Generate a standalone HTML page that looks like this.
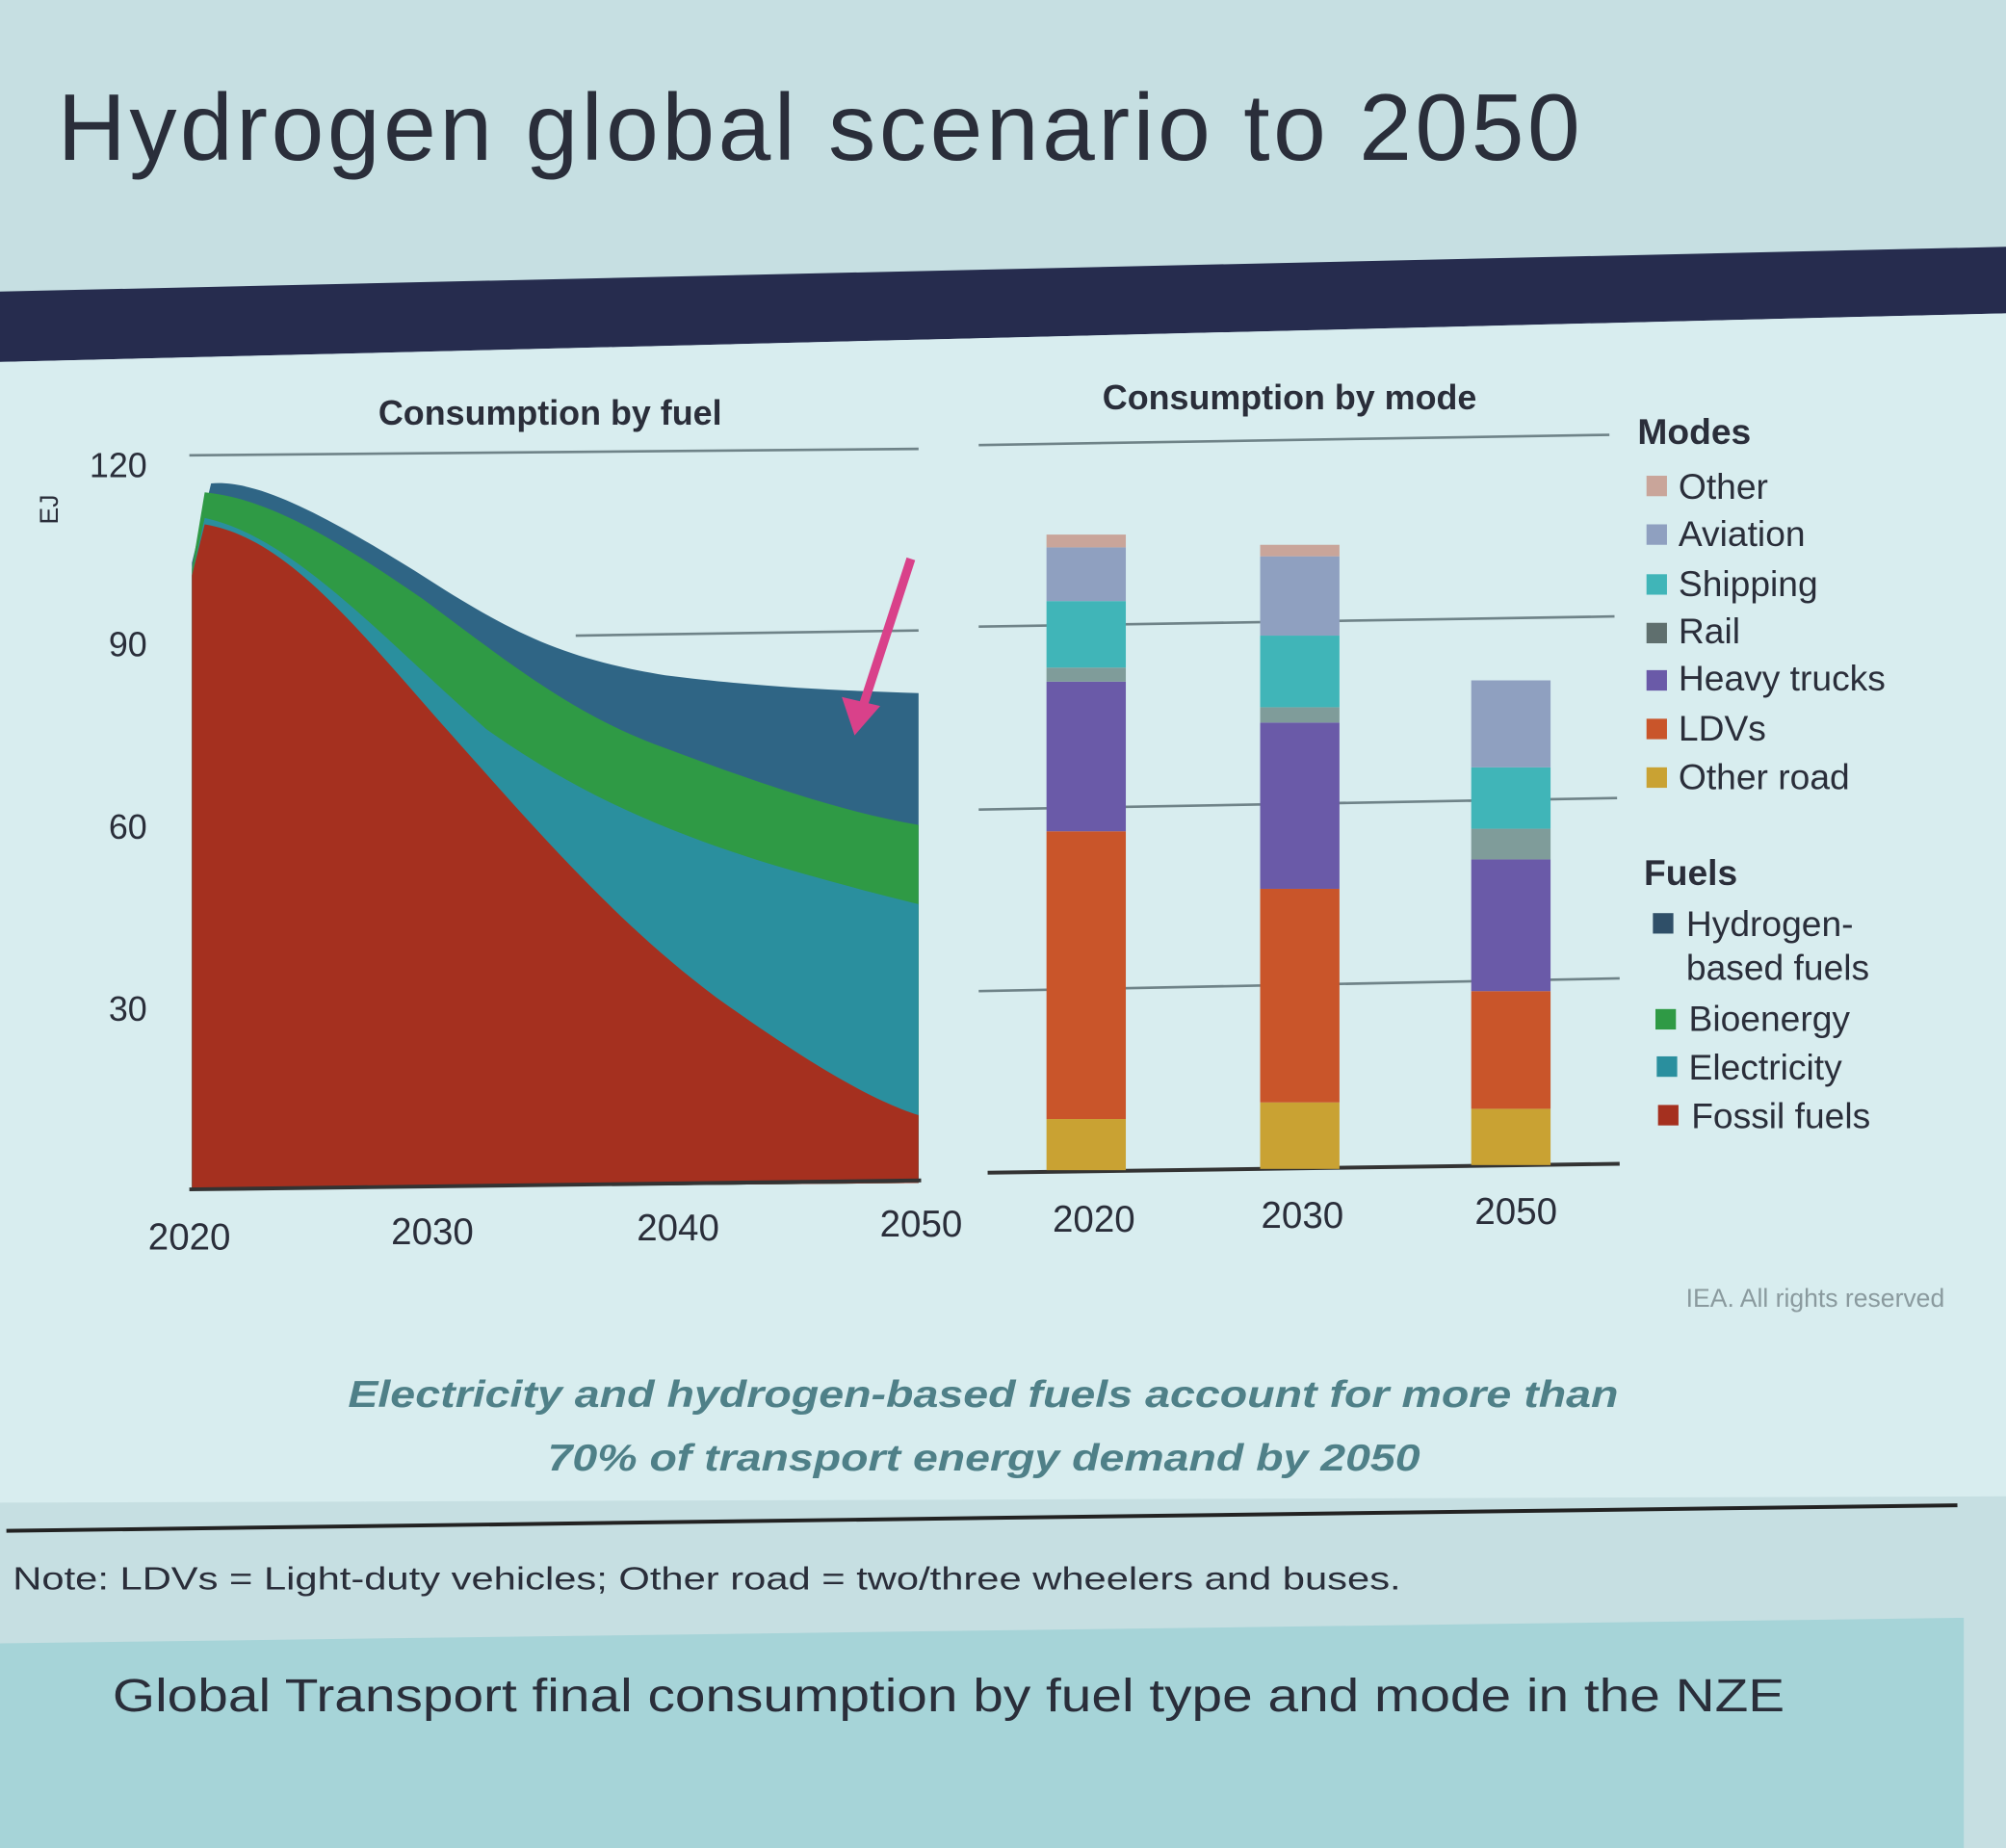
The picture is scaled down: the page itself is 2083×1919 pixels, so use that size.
<!DOCTYPE html>
<html><head><meta charset="utf-8"><style>
html,body{margin:0;padding:0;background:#c8e0e3;}
svg{display:block}
text{font-family:"Liberation Sans",sans-serif;}
</style></head><body>
<svg width="2083" height="1919" viewBox="0 0 1568 1445" xmlns="http://www.w3.org/2000/svg" preserveAspectRatio="none">
<rect x="0" y="0" width="1568" height="1445" fill="#c6dfe2"/>
<text x="45" y="125" font-size="74" fill="#2a2e3a" textLength="1190" lengthAdjust="spacing">Hydrogen global scenario to 2050</text>
<polygon points="0,228 1568,193 1568,245 0,283" fill="#262c4e"/>
<polygon points="0,283 1568,245 1568,1170 0,1175" fill="#d8edef"/>
<g stroke="#6f8388" stroke-width="2">
<line x1="148" y1="356" x2="718" y2="351"/>
<line x1="450" y1="497" x2="718" y2="493"/>
<line x1="765" y1="348" x2="1258" y2="340"/>
<line x1="765" y1="490" x2="1262" y2="482"/>
<line x1="765" y1="633" x2="1264" y2="624"/>
<line x1="765" y1="775" x2="1266" y2="765"/>
</g>
<text x="430" y="332" font-size="27" font-weight="bold" fill="#2a2e3a" text-anchor="middle">Consumption by fuel</text>
<text x="1008" y="320" font-size="27" font-weight="bold" fill="#2a2e3a" text-anchor="middle">Consumption by mode</text>
<g font-size="27" fill="#2a2e3a" text-anchor="end">
<text x="115" y="373">120</text><text x="115" y="513">90</text><text x="115" y="656">60</text><text x="115" y="798">30</text>
</g>
<text x="45" y="410" font-size="20" fill="#2a2e3a" transform="rotate(-90 45 410)">EJ</text>
<path d="M150,440 L165,378 C200,375 250,400 330,450 C400,495 440,515 520,528 C600,538 660,540 718,542 L718,925 L150,930 Z" fill="#2f6585"/>
<path d="M150,445 L160,385 C210,390 260,420 330,468 C400,520 450,560 520,585 C600,615 660,635 718,645 L718,925 L150,930 Z" fill="#2f9a45"/>
<path d="M150,450 L160,405 C230,420 300,500 380,570 C450,620 520,650 600,675 C650,690 690,700 718,707 L718,925 L150,930 Z" fill="#2a8f9e"/>
<path d="M150,450 L160,410 C220,420 270,480 340,560 C420,650 480,720 560,780 C630,830 680,860 718,872 L718,925 L150,930 Z" fill="#a5301f"/>
<line x1="148" y1="930" x2="720" y2="923" stroke="#333" stroke-width="3"/>
<line x1="772" y1="917" x2="1266" y2="910" stroke="#333" stroke-width="3"/>
<g font-size="29" fill="#2a2e3a" text-anchor="middle">
<text x="148" y="977">2020</text><text x="338" y="973">2030</text><text x="530" y="970">2040</text><text x="720" y="967">2050</text>
<text x="855" y="963">2020</text><text x="1018" y="960">2030</text><text x="1185" y="957">2050</text>
</g>
<line x1="712" y1="437" x2="672" y2="560" stroke="#d9418a" stroke-width="7"/>
<polygon points="658,545 668,575 688,552" fill="#d9418a"/>
<g>
<rect x="818" y="875" width="62" height="40" fill="#c9a233"/>
<rect x="818" y="650" width="62" height="225" fill="#c9552a"/>
<rect x="818" y="533" width="62" height="117" fill="#6a5aa8"/>
<rect x="818" y="522" width="62" height="11" fill="#7f9c9a"/>
<rect x="818" y="470" width="62" height="52" fill="#40b5b8"/>
<rect x="818" y="428" width="62" height="42" fill="#8fa0c0"/>
<rect x="818" y="418" width="62" height="10" fill="#c9a59a"/>
<rect x="985" y="862" width="62" height="52" fill="#c9a233"/>
<rect x="985" y="695" width="62" height="167" fill="#c9552a"/>
<rect x="985" y="565" width="62" height="130" fill="#6a5aa8"/>
<rect x="985" y="553" width="62" height="12" fill="#7f9c9a"/>
<rect x="985" y="497" width="62" height="56" fill="#40b5b8"/>
<rect x="985" y="435" width="62" height="62" fill="#8fa0c0"/>
<rect x="985" y="426" width="62" height="9" fill="#c9a59a"/>
<rect x="1150" y="867" width="62" height="44" fill="#c9a233"/>
<rect x="1150" y="775" width="62" height="92" fill="#c9552a"/>
<rect x="1150" y="672" width="62" height="103" fill="#6a5aa8"/>
<rect x="1150" y="648" width="62" height="24" fill="#7f9c9a"/>
<rect x="1150" y="600" width="62" height="48" fill="#40b5b8"/>
<rect x="1150" y="532" width="62" height="68" fill="#8fa0c0"/>
</g>
<g font-size="28" fill="#2a2e3a">
<text x="1280" y="347" font-weight="bold">Modes</text>
<rect x="1287" y="372" width="16" height="16" fill="#c9a59a"/><text x="1312" y="390">Other</text>
<rect x="1287" y="410" width="16" height="16" fill="#8fa0c0"/><text x="1312" y="427">Aviation</text>
<rect x="1287" y="449" width="16" height="16" fill="#40b5b8"/><text x="1312" y="466">Shipping</text>
<rect x="1287" y="487" width="16" height="16" fill="#5f6f6e"/><text x="1312" y="503">Rail</text>
<rect x="1287" y="524" width="16" height="16" fill="#6a5aa8"/><text x="1312" y="540">Heavy trucks</text>
<rect x="1287" y="562" width="16" height="16" fill="#c9552a"/><text x="1312" y="579">LDVs</text>
<rect x="1287" y="600" width="16" height="16" fill="#c9a233"/><text x="1312" y="617">Other road</text>
<text x="1285" y="692" font-weight="bold">Fuels</text>
<rect x="1292" y="714" width="16" height="16" fill="#2f4f68"/><text x="1318" y="732">Hydrogen-</text>
<text x="1318" y="766">based fuels</text>
<rect x="1294" y="789" width="16" height="16" fill="#2f9a45"/><text x="1320" y="806">Bioenergy</text>
<rect x="1295" y="826" width="16" height="16" fill="#2a8f9e"/><text x="1320" y="844">Electricity</text>
<rect x="1296" y="864" width="16" height="16" fill="#a5301f"/><text x="1322" y="882">Fossil fuels</text>
</g>
<text x="1520" y="1022" font-size="20" fill="#8a9a9e" text-anchor="end">IEA. All rights reserved</text>
<g font-size="29" font-style="italic" font-weight="bold" fill="#4f8088">
<text x="272" y="1100" textLength="993" lengthAdjust="spacingAndGlyphs">Electricity and hydrogen-based fuels account for more than</text>
<text x="428" y="1150" textLength="682" lengthAdjust="spacingAndGlyphs">70% of transport energy demand by 2050</text>
</g>
<line x1="5" y1="1197" x2="1530" y2="1177" stroke="#222" stroke-width="3"/>
<text x="10" y="1243" font-size="25" fill="#2a2e3a" textLength="1085" lengthAdjust="spacingAndGlyphs">Note: LDVs = Light-duty vehicles; Other road = two/three wheelers and buses.</text>
<polygon points="0,1285 1535,1265 1535,1445 0,1445" fill="#a6d4d8"/>
<text x="88" y="1338" font-size="36" fill="#2a2e3a" textLength="1307" lengthAdjust="spacingAndGlyphs">Global Transport final consumption by fuel type and mode in the NZE</text>
</svg>
</body></html>
